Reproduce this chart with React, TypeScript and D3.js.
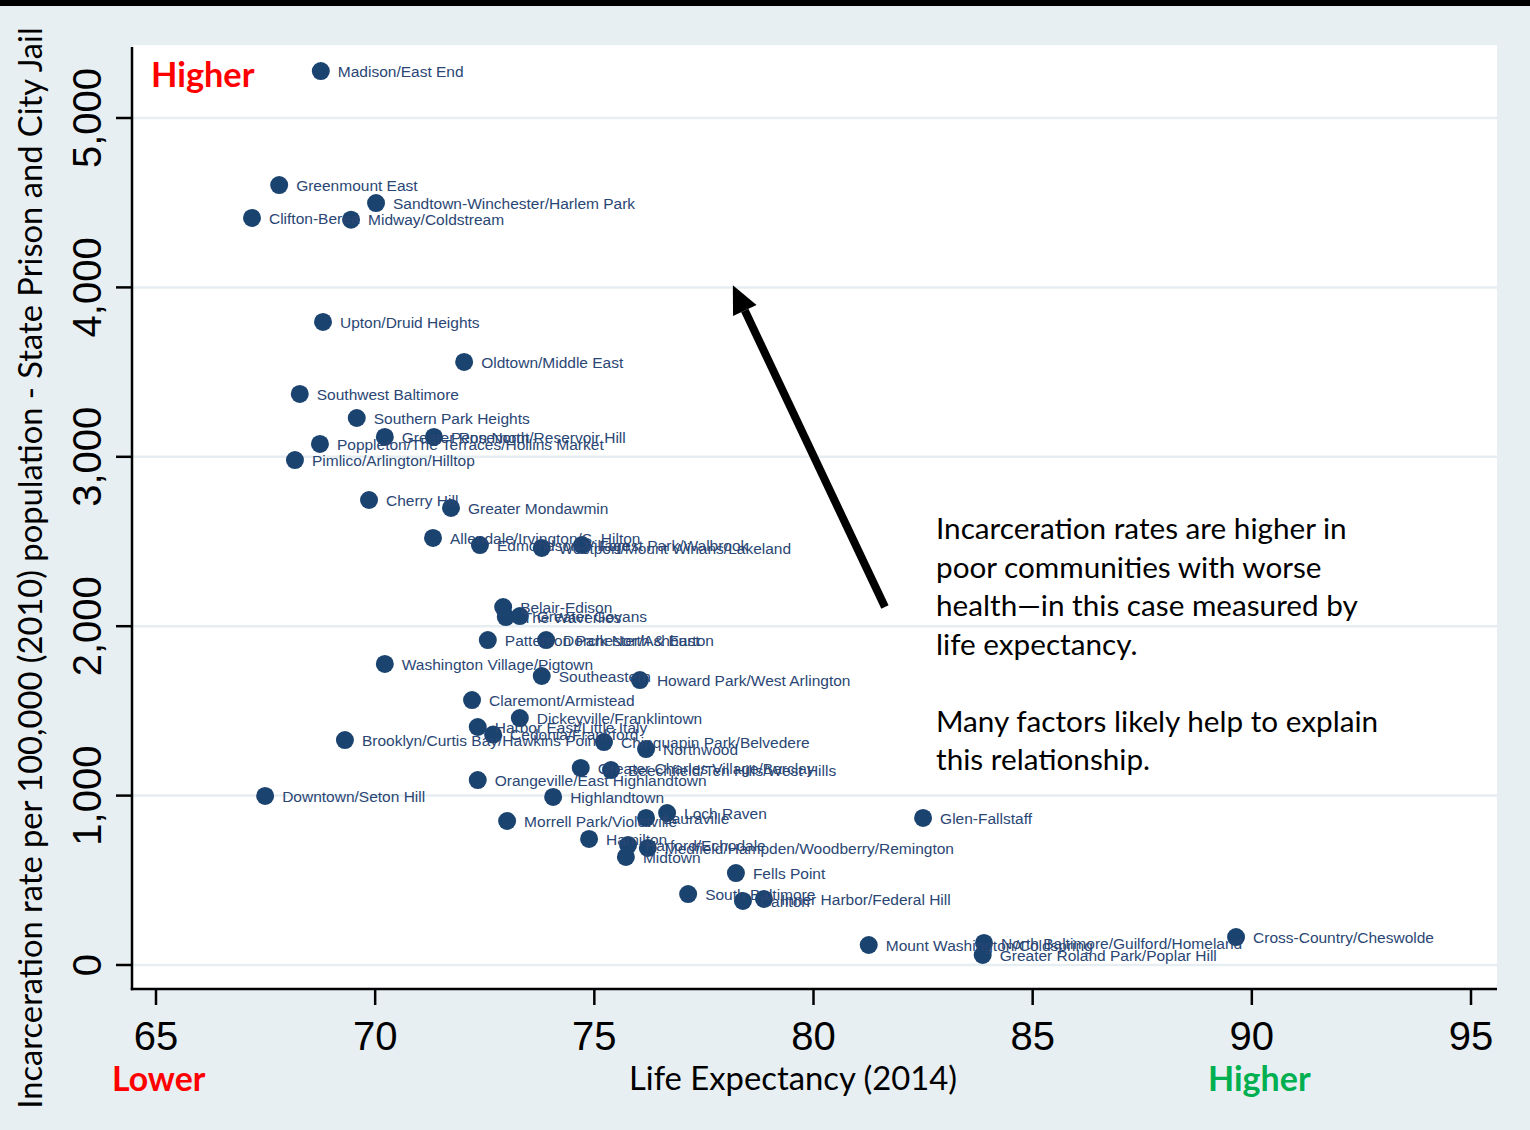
import React, { useEffect } from "react";
import * as d3 from "d3";

const names = [
  "Madison/East End", "Greenmount East", "Sandtown-Winchester/Harlem Park", "Clifton-Berea",
  "Midway/Coldstream", "Upton/Druid Heights", "Oldtown/Middle East", "Southwest Baltimore",
  "Southern Park Heights", "Greater Rosemont", "Penn North/Reservoir Hill",
  "Poppleton/The Terraces/Hollins Market", "Pimlico/Arlington/Hilltop", "Cherry Hill",
  "Greater Mondawmin", "Allendale/Irvington/S. Hilton", "Edmondson Village",
  "Westport/Mount Winans/Lakeland", "Forest Park/Walbrook", "Belair-Edison", "The Waverlies",
  "Greater Govans", "Patterson Park North & East", "Dorchester/Ashburton",
  "Washington Village/Pigtown", "Southeastern", "Howard Park/West Arlington",
  "Claremont/Armistead", "Dickeyville/Franklintown", "Harbor East/Little Italy",
  "Cedonia/Frankford", "Brooklyn/Curtis Bay/Hawkins Point", "Chinquapin Park/Belvedere",
  "Northwood", "Greater Charles Village/Barclay", "Beechfield/Ten Hills/West Hills",
  "Orangeville/East Highlandtown", "Downtown/Seton Hill", "Highlandtown", "Lauraville",
  "Loch Raven", "Morrell Park/Violetville", "Glen-Fallstaff", "Hamilton", "Harford/Echodale",
  "Medfield/Hampden/Woodberry/Remington", "Midtown", "Fells Point", "South Baltimore",
  "Canton", "Inner Harbor/Federal Hill", "Mount Washington/Coldspring",
  "North Baltimore/Guilford/Homeland", "Greater Roland Park/Poplar Hill", "Cross-Country/Cheswolde",
];

const lifeExpectancy = [
  68.76, 67.81, 70.02, 67.19,
  69.45, 68.81, 72.03, 68.28,
  69.58, 70.22, 71.34,
  68.74, 68.17, 69.86,
  71.73, 71.32, 72.39,
  73.8, 74.72, 72.92, 72.98,
  73.3, 72.57, 73.9,
  70.22, 73.8, 76.04,
  72.21, 73.3, 72.34,
  72.69, 69.31, 75.22,
  76.18, 74.69, 75.38,
  72.34, 67.49, 74.06, 76.18,
  76.66, 73.01, 82.5, 74.88, 75.77,
  76.22, 75.72, 78.23, 77.14,
  78.39, 78.87, 81.26,
  83.89, 83.86, 89.64,
];

const incarcerationRate = [
  5277, 4604, 4498, 4410,
  4400, 3796, 3560, 3371,
  3229, 3117, 3117,
  3076, 2981, 2745,
  2698, 2521, 2479,
  2462, 2479, 2113, 2054,
  2060, 1918, 1918,
  1777, 1706, 1682,
  1564, 1458, 1405,
  1360, 1328, 1316,
  1275, 1163, 1151,
  1092, 998, 992, 868,
  897, 850, 868, 744, 708,
  691, 638, 543, 419,
  378, 390, 118,
  130, 59, 165,
];

const xTicks = [65, 70, 75, 80, 85, 90, 95];
const yTicks = [0, 1000, 2000, 3000, 4000, 5000];

const annotationLines = [
  "Incarceration rates are higher in",
  "poor communities with worse",
  "health\u2014in this case measured by",
  "life expectancy.",
  "",
  "Many factors likely help to explain",
  "this relationship.",
];

// arrow in data coordinates: tail -> tip
const arrowTail = [81.63, 2113];
const arrowTip = [78.16, 4013];

const W = 1530;
const H = 1130;

export default function App() {
  useEffect(() => {
    document.body.style.margin = "0";
  }, []);

  const x = d3.scaleLinear().domain([65, 95]).range([156, 1471]);
  const y = d3.scaleLinear().domain([0, 5000]).range([965, 118]);
  const fmt = d3.format(",");

  const plotL = 133, plotR = 1497, plotT = 45, plotB = 988;
  const axisY = 989, axisX = 132;

  const points = names.map((n, i) => ({ name: n, x: x(lifeExpectancy[i]), y: y(incarcerationRate[i]) }));

  const tx = x(arrowTail[0]), ty = y(arrowTail[1]);
  const hx = x(arrowTip[0]), hy = y(arrowTip[1]);
  const ang = Math.atan2(hy - ty, hx - tx);
  const headLen = 28, headW = 13;
  const bx = hx - headLen * Math.cos(ang), by = hy - headLen * Math.sin(ang);
  const px = -Math.sin(ang), py = Math.cos(ang);
  const headPts = [
    [hx, hy],
    [bx + headW * px, by + headW * py],
    [bx - headW * px, by - headW * py],
  ].map((p) => p.join(",")).join(" ");

  const calibri = "Lato, 'Open Sans', sans-serif";
  const arial = "'Liberation Sans', Arial, sans-serif";

  return (
    <svg width={W} height={H} style={{ position: "absolute", left: 0, top: 0, display: "block" }}>
      <rect x={0} y={0} width={W} height={H} fill="#e8eff2" />
      <rect x={0} y={0} width={W} height={6} fill="#000" />
      <rect x={plotL} y={plotT} width={plotR - plotL} height={plotB - plotT} fill="#fff" />

      {yTicks.map((t) => (
        <line key={"g" + t} x1={plotL} x2={plotR} y1={y(t)} y2={y(t)} stroke="#e6eef1" strokeWidth={2.5} />
      ))}

      {/* axes */}
      <line x1={axisX} x2={axisX} y1={47} y2={axisY + 1.2} stroke="#000" strokeWidth={2.5} />
      <line x1={axisX - 1.2} x2={plotR} y1={axisY} y2={axisY} stroke="#000" strokeWidth={2.5} />
      {yTicks.map((t) => (
        <g key={"yt" + t}>
          <line x1={116} x2={axisX} y1={y(t)} y2={y(t)} stroke="#000" strokeWidth={2.5} />
          <text
            transform={`translate(101,${y(t)}) rotate(-90)`}
            textAnchor="middle"
            fontFamily={arial}
            fontSize={40}
            fill="#000"
          >
            {fmt(t)}
          </text>
        </g>
      ))}
      {xTicks.map((t) => (
        <g key={"xt" + t}>
          <line x1={x(t)} x2={x(t)} y1={axisY} y2={1005} stroke="#000" strokeWidth={2.5} />
          <text x={x(t)} y={1050} textAnchor="middle" fontFamily={arial} fontSize={40} fill="#000">
            {t}
          </text>
        </g>
      ))}

      {/* points */}
      {points.map((p, i) => (
        <circle key={"c" + i} cx={p.x} cy={p.y} r={9} fill="#1b4370" />
      ))}
      {points.map((p, i) => (
        <text
          key={"l" + i}
          x={p.x + 17}
          y={p.y}
          dy="0.36em"
          fontFamily={arial}
          fontSize={15.5}
          fill="#2a4674"
        >
          {p.name}
        </text>
      ))}

      {/* arrow */}
      <line x1={tx} y1={ty} x2={bx} y2={by} stroke="#000" strokeWidth={8} />
      <polygon points={headPts} fill="#000" />

      {/* annotation */}
      <text fontFamily={calibri} fontSize={29.7} fill="#000">
        {annotationLines.map((l, i) => (
          <tspan key={i} x={936} y={539 + i * 38.5}>
            {l}
          </tspan>
        ))}
      </text>

      {/* labels */}
      <text x={151} y={87} fontFamily={calibri} fontWeight="bold" fontSize={34.3} fill="#ff0000">
        Higher
      </text>
      <text x={112} y={1091} fontFamily={calibri} fontWeight="bold" fontSize={33.8} fill="#ff0000">
        Lower
      </text>
      <text x={1208} y={1091} fontFamily={calibri} fontWeight="bold" fontSize={34} fill="#00b050">
        Higher
      </text>
      <text x={793} y={1090} textAnchor="middle" fontFamily={calibri} fontSize={32.8} fill="#000">
        Life Expectancy (2014)
      </text>
      <text
        transform={`translate(42,568) rotate(-90)`}
        textAnchor="middle"
        fontFamily={calibri}
        fontSize={32.7}
        fill="#000"
      >
        Incarceration rate per 100,000 (2010) population - State Prison and City Jail
      </text>
    </svg>
  );
}
